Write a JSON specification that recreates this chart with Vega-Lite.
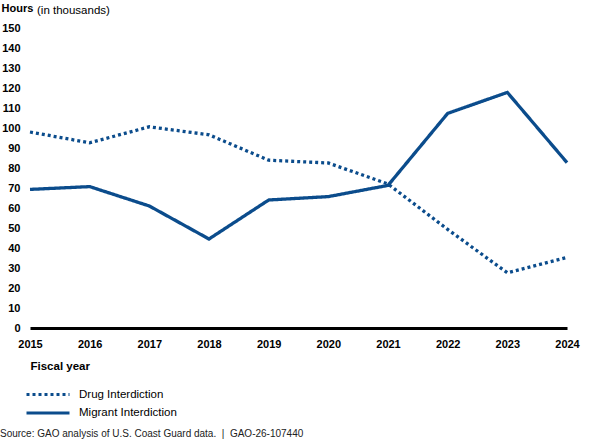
{
  "$schema": "https://vega.github.io/schema/vega-lite/v6.json",
  "width": 537,
  "height": 300,
  "autosize": {"type": "none"},
  "padding": {"left": 30, "top": 28, "right": 33, "bottom": 116},
  "background": "white",
  "config": {
    "font": "Liberation Sans",
    "view": {"stroke": null},
    "axis": {"grid": false, "ticks": false, "labelColor": "#000", "titleColor": "#000"}
  },
  "title": {
    "text": "(in thousands)",
    "orient": "top",
    "anchor": "start",
    "frame": "group",
    "font": "Liberation Sans",
    "fontSize": 11.5,
    "fontWeight": "normal",
    "color": "#000",
    "baseline": "alphabetic",
    "offset": 0,
    "dx": 7,
    "dy": 23
  },
  "data": {
    "values": [
      {"year": "2015", "series": "Drug Interdiction", "hours": 98},
      {"year": "2016", "series": "Drug Interdiction", "hours": 92.6},
      {"year": "2017", "series": "Drug Interdiction", "hours": 100.6},
      {"year": "2018", "series": "Drug Interdiction", "hours": 96.6},
      {"year": "2019", "series": "Drug Interdiction", "hours": 83.9},
      {"year": "2020", "series": "Drug Interdiction", "hours": 82.5},
      {"year": "2021", "series": "Drug Interdiction", "hours": 72},
      {"year": "2022", "series": "Drug Interdiction", "hours": 49.3},
      {"year": "2023", "series": "Drug Interdiction", "hours": 27.6},
      {"year": "2024", "series": "Drug Interdiction", "hours": 35.3},
      {"year": "2015", "series": "Migrant Interdiction", "hours": 69.3},
      {"year": "2016", "series": "Migrant Interdiction", "hours": 70.7},
      {"year": "2017", "series": "Migrant Interdiction", "hours": 61},
      {"year": "2018", "series": "Migrant Interdiction", "hours": 44.5},
      {"year": "2019", "series": "Migrant Interdiction", "hours": 64},
      {"year": "2020", "series": "Migrant Interdiction", "hours": 65.7},
      {"year": "2021", "series": "Migrant Interdiction", "hours": 71.3},
      {"year": "2022", "series": "Migrant Interdiction", "hours": 107.3},
      {"year": "2023", "series": "Migrant Interdiction", "hours": 117.8},
      {"year": "2024", "series": "Migrant Interdiction", "hours": 82.7}
    ]
  },
  "mark": {"type": "line", "strokeWidth": 3.3, "color": "#0b4c8c", "strokeCap": "butt"},
  "encoding": {
    "x": {
      "field": "year",
      "type": "ordinal",
      "scale": {"type": "point", "padding": 0},
      "axis": {
        "labelAngle": 0,
        "labelFontSize": 11,
        "labelFontWeight": "bold",
        "labelPadding": 10,
        "labelBaseline": "top",
        "domain": true,
        "domainColor": "#000",
        "domainWidth": 3,
        "title": "Fiscal year",
        "titleFontSize": 11.5,
        "titleFontWeight": "bold",
        "titleAnchor": "start",
        "titleAlign": "left",
        "titleBaseline": "alphabetic",
        "titleX": 0,
        "titleY": 41
      }
    },
    "y": {
      "field": "hours",
      "type": "quantitative",
      "scale": {"domain": [0, 150], "nice": false},
      "axis": {
        "values": [0, 10, 20, 30, 40, 50, 60, 70, 80, 90, 100, 110, 120, 130, 140, 150],
        "domain": false,
        "labelFontSize": 11,
        "labelFontWeight": "bold",
        "labelPadding": 10,
        "title": "Hours",
        "titleAngle": 0,
        "titleFontSize": 11,
        "titleFontWeight": "bold",
        "titleAlign": "left",
        "titleBaseline": "alphabetic",
        "titleX": -29,
        "titleY": -16.5
      }
    },
    "strokeDash": {
      "field": "series",
      "type": "nominal",
      "scale": {"domain": ["Drug Interdiction", "Migrant Interdiction"], "range": [[3, 3], [1, 0]]},
      "legend": {
        "orient": "none",
        "legendX": -30,
        "legendY": 360.5,
        "direction": "vertical",
        "padding": 0,
        "symbolType": "stroke",
        "symbolSize": 1849,
        "symbolStrokeWidth": 3,
        "symbolStrokeColor": "#0b4c8c",
        "symbolOffset": 25,
        "labelOffset": 8,
        "labelFontSize": 11.5,
        "labelColor": "#000",
        "clipHeight": 12,
        "rowPadding": 6.4,
        "title": "Source: GAO analysis of U.S. Coast Guard data.\u00a0 |\u00a0 GAO-26-107440",
        "titleOrient": "bottom",
        "titleAnchor": "start",
        "titleFontSize": 10,
        "titleFontWeight": "normal",
        "titleColor": "#222",
        "titlePadding": 10,
        "titleLimit": 600
      }
    }
  }
}
